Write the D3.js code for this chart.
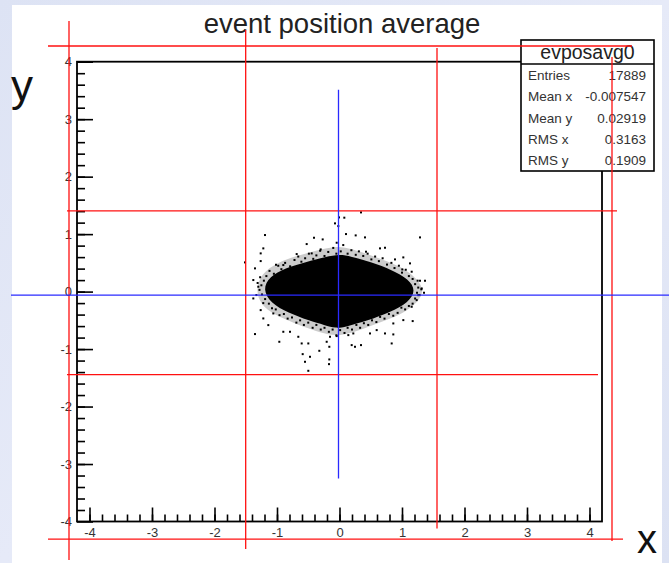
<!DOCTYPE html>
<html>
<head>
<meta charset="utf-8">
<script src="https://cdn.jsdelivr.net/npm/d3@7"></script>
<style>
  html, body { margin: 0; padding: 0; background: #e2e6f5; }
  svg { display: block; }
  text { font-family: "Liberation Sans", Arial, Helvetica, sans-serif; }
</style>
</head>
<body>
<svg id="chart" width="669" height="563"></svg>
<script>
// ---- histogram: evposavg0 ----
const histName = "evposavg0";
const chartTitle = "event position average";
const statLabels = ["Entries", "Mean x", "Mean y", "RMS x", "RMS y"];
const statValues = ["17889", "-0.007547", "0.02919", "0.3163", "0.1909"];

const xDomain = [-4.2, 4.2];
const yDomain = [-4, 4];
const xMajorTicks = [-4, -3, -2, -1, 0, 1, 2, 3, 4];
const yMajorTicks = [-4, -3, -2, -1, 0, 1, 2, 3, 4];
const xTickLabels = ["-4", "-3", "-2", "-1", "0", "1", "2", "3", "4"];
const yTickLabels = ["-4", "-3", "-2", "-1", "0", "1", "2", "3", "4"];

// outline of the speckled outer part of the event cloud (x, y)
const cloudOuter = [
  [-1.340, 0.020], [-1.260, 0.310], [-0.990, 0.510], [-0.685, 0.620], [-0.365, 0.720],
  [-0.030, 0.800], [0.200, 0.740], [0.450, 0.650], [0.760, 0.530], [1.060, 0.390],
  [1.260, 0.200], [1.350, 0.020], [1.270, -0.170], [1.050, -0.360], [0.720, -0.510],
  [0.380, -0.650], [0.050, -0.770], [-0.200, -0.750], [-0.450, -0.660], [-0.720, -0.550],
  [-1.030, -0.410], [-1.260, -0.230]
];
// outline of the saturated core of the event cloud (x, y)
const cloudCore = [
  [-1.230, 0.040], [-1.120, 0.260], [-0.870, 0.410], [-0.540, 0.515], [-0.215, 0.605],
  [0.000, 0.650], [0.175, 0.615], [0.500, 0.515], [0.830, 0.380], [1.110, 0.215],
  [1.220, 0.020], [1.110, -0.185], [0.810, -0.360], [0.450, -0.505], [0.090, -0.615],
  [-0.060, -0.640], [-0.235, -0.585], [-0.490, -0.505], [-0.820, -0.370], [-1.100, -0.205]
];
// events along the edge of the core (x, y)
const edgeEvents = [
  [-1.12, 0.36], [-1.05, 0.31], [-0.98, 0.45], [-0.93, 0.39], [-0.87, 0.50], [-0.79, 0.44],
  [-0.72, 0.55], [-0.66, 0.61], [-0.61, 0.52], [-0.55, 0.58], [-0.49, 0.66], [-0.42, 0.57],
  [-0.37, 0.63], [-0.31, 0.71], [-0.24, 0.62], [-0.18, 0.69], [-0.10, 0.76], [-0.05, 0.66],
  [0.02, 0.70], [0.06, 0.81], [0.13, 0.66], [0.19, 0.72], [0.26, 0.64], [0.31, 0.70],
  [0.38, 0.62], [0.45, 0.66], [0.51, 0.56], [0.57, 0.61], [0.63, 0.53], [0.69, 0.58],
  [0.76, 0.47], [0.83, 0.50], [0.88, 0.41], [0.95, 0.45], [1.00, 0.33], [1.06, 0.38],
  [1.11, 0.27],
  [1.17, 0.22], [1.21, 0.13], [1.26, 0.07], [1.24, -0.02], [1.28, -0.06], [1.21, -0.12],
  [1.17, -0.21], [1.31, 0.04], [1.25, 0.19],
  [1.11, -0.25], [1.05, -0.31], [0.99, -0.28], [0.93, -0.37], [0.86, -0.42], [0.79, -0.39],
  [0.72, -0.47], [0.65, -0.44], [0.59, -0.53], [0.52, -0.50], [0.46, -0.58], [0.39, -0.55],
  [0.33, -0.63], [0.27, -0.58], [0.20, -0.66], [0.13, -0.63], [0.08, -0.72], [0.01, -0.67],
  [-0.05, -0.76], [-0.11, -0.66], [-0.17, -0.70], [-0.24, -0.63], [-0.30, -0.66], [-0.37, -0.58],
  [-0.43, -0.63], [-0.50, -0.54], [-0.57, -0.58], [-0.63, -0.50], [-0.69, -0.54], [-0.76, -0.45],
  [-0.83, -0.47], [-0.89, -0.39], [-0.96, -0.41], [-1.02, -0.31], [-1.08, -0.29], [-1.13, -0.21],
  [-1.19, -0.13], [-1.24, -0.05], [-1.28, 0.03], [-1.25, 0.11], [-1.31, 0.15], [-1.21, 0.19],
  [-1.17, 0.27], [-1.33, -0.06], [-1.27, 0.25], [-1.22, -0.20]
];
// isolated events well outside the core (x, y)
const sparseEvents = [
  [0.344, 1.378], [-0.008, 1.291], [0.077, 1.286], [-0.072, 1.187], [-0.019, 1.140],
  [-1.192, 0.984], [1.288, 0.943], [0.104, 1.001], [0.259, 0.978], [0.408, 0.943],
  [-0.408, 0.937], [-0.269, 0.908], [-0.525, 0.827], [-0.045, 0.850], [-1.219, 0.752],
  [-0.301, 0.734], [-1.261, 0.665], [-0.685, 0.653], [0.728, 0.763], [0.648, 0.752],
  [0.424, 0.694], [-0.445, 0.665], [-1.512, 0.508], [-1.261, 0.531], [-1.352, 0.404],
  [-1.016, 0.467], [-0.899, 0.462], [1.021, 0.595], [1.128, 0.491], [0.888, 0.560],
  [1.005, 0.386], [1.155, 0.346], [1.288, 0.189], [1.368, 0.189], [-1.379, 0.201],
  [-1.299, 0.085], [-1.379, -0.119], [1.315, 0.055], [1.261, -0.061], [1.352, -0.020],
  [1.235, -0.148], [1.155, -0.264], [-1.261, -0.322], [-1.219, -0.467], [-1.139, -0.583],
  [-1.059, -0.380], [-1.352, -0.739], [-0.899, -0.699], [-0.792, -0.699], [-0.963, -0.873],
  [-0.659, -0.786], [-0.605, -0.902], [-0.499, -0.902], [-0.589, -1.088], [-0.472, -1.134],
  [-0.552, -1.221], [-0.499, -1.378], [-0.323, -1.030], [-0.205, -0.873], [-0.163, -0.960],
  [-0.163, -1.180], [-0.168, -1.262], [-0.152, -0.786], [-0.045, -0.774], [0.141, -0.757],
  [0.221, -0.728], [0.195, -0.931], [0.248, -0.960], [0.344, -0.931], [0.488, -0.728],
  [0.595, -0.670], [0.728, -0.728], [0.835, -0.902], [0.861, -0.745], [1.021, -0.496],
  [1.171, -0.513], [0.861, -0.554]
];

// guide lines drawn over the pad, in axis units: [x1, y1, x2, y2]
const redGuides = [
  [-4.664, 4.273, 4.68, 4.273],
  [-4.36, 1.406, 4.44, 1.406],
  [-4.36, -1.445, 4.136, -1.445],
  [-4.664, -4.308, 4.536, -4.308],
  [-4.328, 4.71, -4.328, -4.67],
  [-1.501, 4.552, -1.501, -4.48],
  [1.56, 4.24, 1.56, -4.12],
  [4.36, 4.08, 4.36, -4.34]
];
const blueGuides = [
  [-5.256, -0.061, 5.3, -0.061],
  [-0.016, 3.51, -0.016, -3.25]
];

// ---- layout ----
const W = 669, H = 563;
const frame = { left: 77, right: 602, top: 61.7, bottom: 521.5 };

const svg = d3.select("#chart");
const defs = svg.append("defs");
const bg = defs.append("linearGradient").attr("id", "desk")
  .attr("x1", "0").attr("y1", "0").attr("x2", "1").attr("y2", "1");
bg.append("stop").attr("offset", "0").attr("stop-color", "#dde3f4");
bg.append("stop").attr("offset", "0.5").attr("stop-color", "#e6eaf8");
bg.append("stop").attr("offset", "1").attr("stop-color", "#dce2f3");

svg.append("rect").attr("width", W).attr("height", H).attr("fill", "url(#desk)");
// canvas pad
svg.append("rect").attr("x", 12).attr("y", 5).attr("width", 650).attr("height", H - 5)
  .attr("fill", "#ffffff");

const x = d3.scaleLinear().domain(xDomain).range([frame.left, frame.right]);
const y = d3.scaleLinear().domain(yDomain).range([frame.bottom, frame.top]);

// minor tick positions every 0.2
const xMinor = d3.range(-42, 43, 2).map(d => d / 10).filter(v => v > xDomain[0] && v < xDomain[1]);
const yMinor = d3.range(-40, 41, 2).map(d => d / 10).filter(v => v > yDomain[0] && v < yDomain[1]);

const axes = svg.append("g");

// x axis: ticks pointing up into the frame
const gxMinor = axes.append("g").attr("transform", `translate(0,${frame.bottom})`)
  .call(d3.axisBottom(x).tickValues(xMinor).tickSize(-7).tickFormat(""));
const gx = axes.append("g").attr("transform", `translate(0,${frame.bottom})`)
  .call(d3.axisBottom(x).tickValues(xMajorTicks).tickSize(-14).tickPadding(6.5)
    .tickFormat((d, i) => xTickLabels[i]));

// y axis: ticks pointing right into the frame
const gyMinor = axes.append("g").attr("transform", `translate(${frame.left},0)`)
  .call(d3.axisLeft(y).tickValues(yMinor).tickSize(-8).tickFormat(""));
const gy = axes.append("g").attr("transform", `translate(${frame.left},0)`)
  .call(d3.axisLeft(y).tickValues(yMajorTicks).tickSize(-16).tickPadding(5)
    .tickFormat((d, i) => yTickLabels[i]));

[gx, gy, gxMinor, gyMinor].forEach(g => {
  g.select(".domain").remove();
  g.selectAll(".tick line").attr("stroke", "#000").attr("stroke-width", 1.6);
  g.selectAll(".tick text").attr("fill", "#333").attr("font-size", 13)
    .attr("font-family", "'Liberation Sans', Arial, sans-serif");
});

// frame
svg.append("rect")
  .attr("x", frame.left).attr("y", frame.top)
  .attr("width", frame.right - frame.left).attr("height", frame.bottom - frame.top)
  .attr("fill", "none").attr("stroke", "#000").attr("stroke-width", 1.8);

// event cloud
const cloud = svg.append("g");
const poly = d3.line().x(d => x(d[0])).y(d => y(d[1])).curve(d3.curveBasisClosed);
cloud.append("path").attr("d", poly(cloudOuter)).attr("fill", "#000").attr("fill-opacity", 0.2);
cloud.append("path").attr("d", poly(cloudCore)).attr("fill", "#000");
cloud.selectAll("rect.ev").data(edgeEvents.concat(sparseEvents)).join("rect").attr("class", "ev")
  .attr("x", d => x(d[0]) - 1).attr("y", d => y(d[1]) - 1)
  .attr("width", 2).attr("height", 2).attr("fill", "#000");

// statistics box
const box = { x: 521, y: 40, w: 133, h: 131, head: 24 };
const sb = svg.append("g");
sb.append("rect").attr("x", box.x).attr("y", box.y).attr("width", box.w).attr("height", box.h)
  .attr("fill", "#fff").attr("stroke", "#000").attr("stroke-width", 1.6);
sb.append("line").attr("x1", box.x).attr("x2", box.x + box.w)
  .attr("y1", box.y + box.head).attr("y2", box.y + box.head)
  .attr("stroke", "#000").attr("stroke-width", 1.4);
sb.append("text").attr("x", box.x + box.w / 2).attr("y", box.y + 19)
  .attr("text-anchor", "middle").attr("font-size", 19.5).attr("fill", "#222").text(histName);
const rowH = (box.h - box.head) / statLabels.length;
statLabels.forEach((lab, i) => {
  const by = box.y + box.head + rowH * (i + 0.5) + 5;
  sb.append("text").attr("x", box.x + 7).attr("y", by).attr("font-size", 13.5)
    .attr("fill", "#333").text(lab);
  sb.append("text").attr("x", box.x + box.w - 8).attr("y", by).attr("font-size", 13.5)
    .attr("text-anchor", "end").attr("fill", "#333").text(statValues[i]);
});

// title
svg.append("text").attr("x", 342).attr("y", 33).attr("text-anchor", "middle")
  .attr("font-size", 27.5).attr("fill", "#222").text(chartTitle);

// guide lines
const guides = svg.append("g");
guides.selectAll("line.red").data(redGuides).join("line").attr("class", "red")
  .attr("x1", d => x(d[0])).attr("y1", d => y(d[1]))
  .attr("x2", d => x(d[2])).attr("y2", d => y(d[3]))
  .attr("stroke", "#ff1010").attr("stroke-width", 1.3);
guides.selectAll("line.blue").data(blueGuides).join("line").attr("class", "blue")
  .attr("x1", d => x(d[0])).attr("y1", d => y(d[1]))
  .attr("x2", d => x(d[2])).attr("y2", d => y(d[3]))
  .attr("stroke", "#2a2aff").attr("stroke-width", 1.3);

// axis names
svg.append("text").attr("x", 11).attr("y", 101).attr("font-size", 44).attr("fill", "#111").text("y");
svg.append("text").attr("x", 637).attr("y", 553).attr("font-size", 40).attr("fill", "#111").text("x");
</script>
</body>
</html>
